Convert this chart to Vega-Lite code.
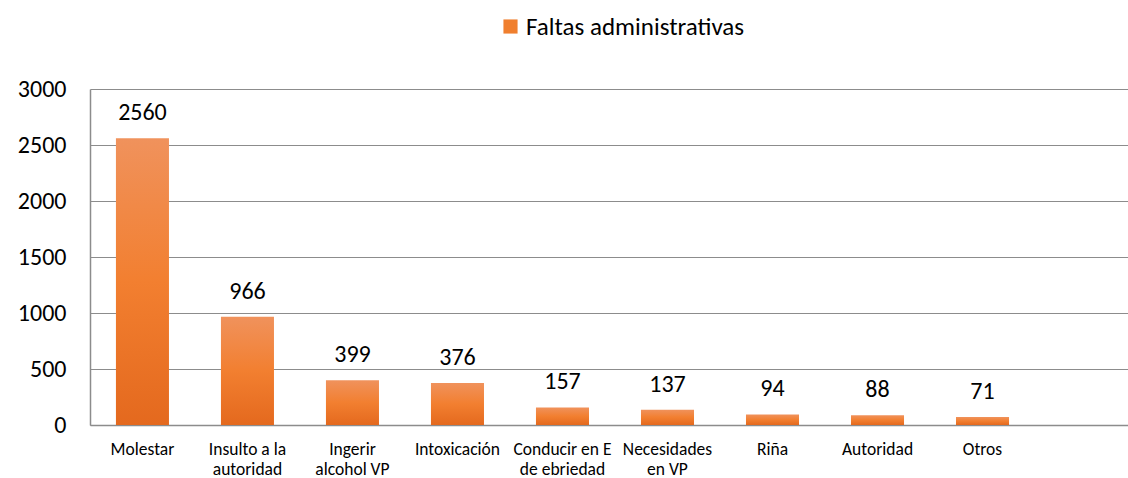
{
  "$schema": "https://vega.github.io/schema/vega-lite/v6.json",
  "width": 1038,
  "height": 336,
  "autosize": {"type": "none"},
  "padding": {"left": 90, "top": 89, "right": 0, "bottom": 53},
  "background": "white",
  "config": {
    "view": {"stroke": null},
    "font": "Carlito, Liberation Sans, sans-serif"
  },
  "data": {
    "values": [
      {"categoria": "Molestar", "valor": 2560, "serie": "Faltas administrativas"},
      {"categoria": "Insulto a la\nautoridad", "valor": 966, "serie": "Faltas administrativas"},
      {"categoria": "Ingerir\nalcohol VP", "valor": 399, "serie": "Faltas administrativas"},
      {"categoria": "Intoxicación", "valor": 376, "serie": "Faltas administrativas"},
      {"categoria": "Conducir en E\nde ebriedad", "valor": 157, "serie": "Faltas administrativas"},
      {"categoria": "Necesidades\nen VP", "valor": 137, "serie": "Faltas administrativas"},
      {"categoria": "Riña", "valor": 94, "serie": "Faltas administrativas"},
      {"categoria": "Autoridad", "valor": 88, "serie": "Faltas administrativas"},
      {"categoria": "Otros", "valor": 71, "serie": "Faltas administrativas"}
    ]
  },
  "encoding": {
    "x": {
      "field": "categoria",
      "type": "nominal",
      "sort": null,
      "scale": {"paddingInner": 0.495, "paddingOuter": 0.69, "align": 0.179},
      "axis": {
        "title": null,
        "labelAngle": 0,
        "labelFontSize": 17.5,
        "labelFontWeight": "normal",
        "labelColor": "#000000",
        "labelPadding": 15,
        "labelLineHeight": 20,
        "labelLimit": 0,
        "labelExpr": "split(datum.label, '\\n')",
        "ticks": false,
        "domainColor": "#8c8c8c",
        "domainWidth": 1.5,
        "grid": false
      }
    },
    "y": {
      "field": "valor",
      "type": "quantitative",
      "scale": {"domain": [0, 3000], "nice": false},
      "axis": {
        "title": null,
        "values": [0, 500, 1000, 1500, 2000, 2500, 3000],
        "format": "d",
        "labelFontSize": 24,
        "labelColor": "#000000",
        "labelPadding": 24,
        "ticks": false,
        "domainColor": "#8c8c8c",
        "domainWidth": 1.5,
        "gridColor": "#8c8c8c",
        "gridWidth": 1.2
      }
    }
  },
  "layer": [
    {
      "mark": {
        "type": "bar",
        "color": {"gradient": "linear", "x1": 0, "y1": 0, "x2": 0, "y2": 1,
          "stops": [
            {"offset": 0, "color": "#F0925C"},
            {"offset": 0.5, "color": "#F27F30"},
            {"offset": 1, "color": "#E4691E"}
          ]}
      }
    },
    {
      "mark": {"type": "square", "opacity": 0},
      "encoding": {
        "color": {
          "field": "serie",
          "type": "nominal",
          "scale": {"range": ["#F07F2E"]},
          "legend": {
            "title": null,
            "orient": "none",
            "legendX": 408,
            "legendY": -75,
            "symbolType": "square",
            "symbolSize": 200,
            "symbolOpacity": 1,
            "symbolStrokeWidth": 0,
            "labelFontSize": 25,
            "labelLimit": 0,
            "labelColor": "#000000",
            "labelOffset": 3
          }
        }
      }
    },
    {
      "mark": {"type": "text", "baseline": "bottom", "dy": -13, "fontSize": 24, "color": "#000000"},
      "encoding": {"text": {"field": "valor", "type": "quantitative"}}
    }
  ]
}
